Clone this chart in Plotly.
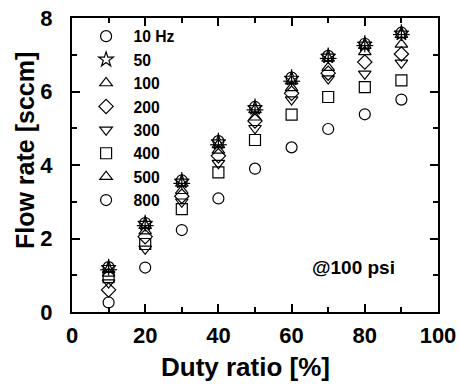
import plotly.graph_objects as go

duty = [10, 20, 30, 40, 50, 60, 70, 80, 90]
labels = ["10 Hz", "50", "100", "200", "300", "400", "500", "800"]
f10 = [1.22, 2.42, 3.58, 4.65, 5.58, 6.38, 6.97, 7.30, 7.60]
f50 = [1.20, 2.40, 3.55, 4.62, 5.55, 6.35, 6.95, 7.28, 7.58]
f100 = [1.15, 2.35, 3.50, 4.55, 5.50, 6.28, 6.90, 7.25, 7.55]
f200 = [0.60, 2.05, 3.15, 4.25, 5.20, 5.95, 6.50, 6.80, 7.02]
f300 = [0.80, 1.72, 3.00, 4.05, 5.00, 5.78, 6.35, 6.48, 6.78]
f400 = [0.95, 1.85, 2.80, 3.80, 4.68, 5.37, 5.85, 6.12, 6.30]
f500 = [1.05, 2.20, 3.30, 4.40, 5.30, 6.10, 6.65, 7.08, 7.28]
f800 = [0.26, 1.21, 2.23, 3.09, 3.90, 4.48, 4.98, 5.38, 5.78]

series = [f10, f50, f100, f200, f300, f400, f500, f800]
symbols = ["circle-open", "star-open", "triangle-up-open", "diamond-open",
           "triangle-down-open", "square-open", "triangle-up-open", "circle-open"]
extra = {0: "line-ns-open", 2: "line-ew-open"}

FONT = "Liberation Sans, Arial, sans-serif"
fig = go.Figure()
for i, (lab, ys, sym) in enumerate(zip(labels, series, symbols)):
    fig.add_trace(go.Scatter(
        x=duty, y=ys, mode="markers", name="\u00a0" + lab,
        marker=dict(symbol=sym, size=11, color="black",
                    line=dict(width=1.2, color="black")),
    ))
    if i in extra:
        fig.add_trace(go.Scatter(
            x=duty, y=ys, mode="markers", name=lab, showlegend=False,
            marker=dict(symbol=extra[i], size=12, color="black",
                        line=dict(width=1.2, color="black")),
        ))

axis_common = dict(
    showline=True, linewidth=2, linecolor="black", mirror="allticks",
    ticks="inside", ticklen=8, tickwidth=2, tickcolor="black",
    showgrid=False, zeroline=False, automargin=False, ticklabeloverflow="allow",
    tickfont=dict(family=FONT, size=22, color="black", weight="bold"),
)

fig.update_xaxes(range=[0, 100], dtick=20, tick0=0, ticklabelstandoff=3,
                 minor=dict(dtick=10, ticks="inside", ticklen=5, tickwidth=2, tickcolor="black"),
                 **axis_common)
fig.update_yaxes(range=[0, 8], dtick=2, tick0=0, ticklabelstandoff=13,
                 minor=dict(dtick=1, ticks="inside", ticklen=5, tickwidth=2, tickcolor="black"),
                 **axis_common)

# axis titles
fig.add_annotation(x=0.474, y=-0.188, xref="paper", yref="paper", text="<b>Duty ratio [%]</b>",
                   showarrow=False, xanchor="center", yanchor="middle",
                   font=dict(family=FONT, size=26, color="black"))
fig.add_annotation(x=-0.128, y=0.548, xref="paper", yref="paper", text="<b>Flow rate [sccm]</b>",
                   showarrow=False, xanchor="center", yanchor="middle", textangle=-90,
                   font=dict(family=FONT, size=25, color="black"))

fig.add_annotation(x=77, y=1.2, xref="x", yref="y", text="<b>@100 psi</b>", showarrow=False,
                   font=dict(family=FONT, size=19, color="black"))

fig.update_layout(
    width=458, height=385,
    margin=dict(l=72, r=20, t=18, b=72.5),
    plot_bgcolor="white", paper_bgcolor="white",
    showlegend=True,
    legend=dict(x=0.0303, y=0.995, xanchor="left", yanchor="top", itemwidth=36,
                bgcolor="rgba(0,0,0,0)",
                font=dict(family=FONT, size=15.7, color="black", weight="bold")),
)

fig.write_html("out.html", config={"displayModeBar": False},
               post_script="document.body.style.margin='0';document.body.style.overflow='hidden';")
